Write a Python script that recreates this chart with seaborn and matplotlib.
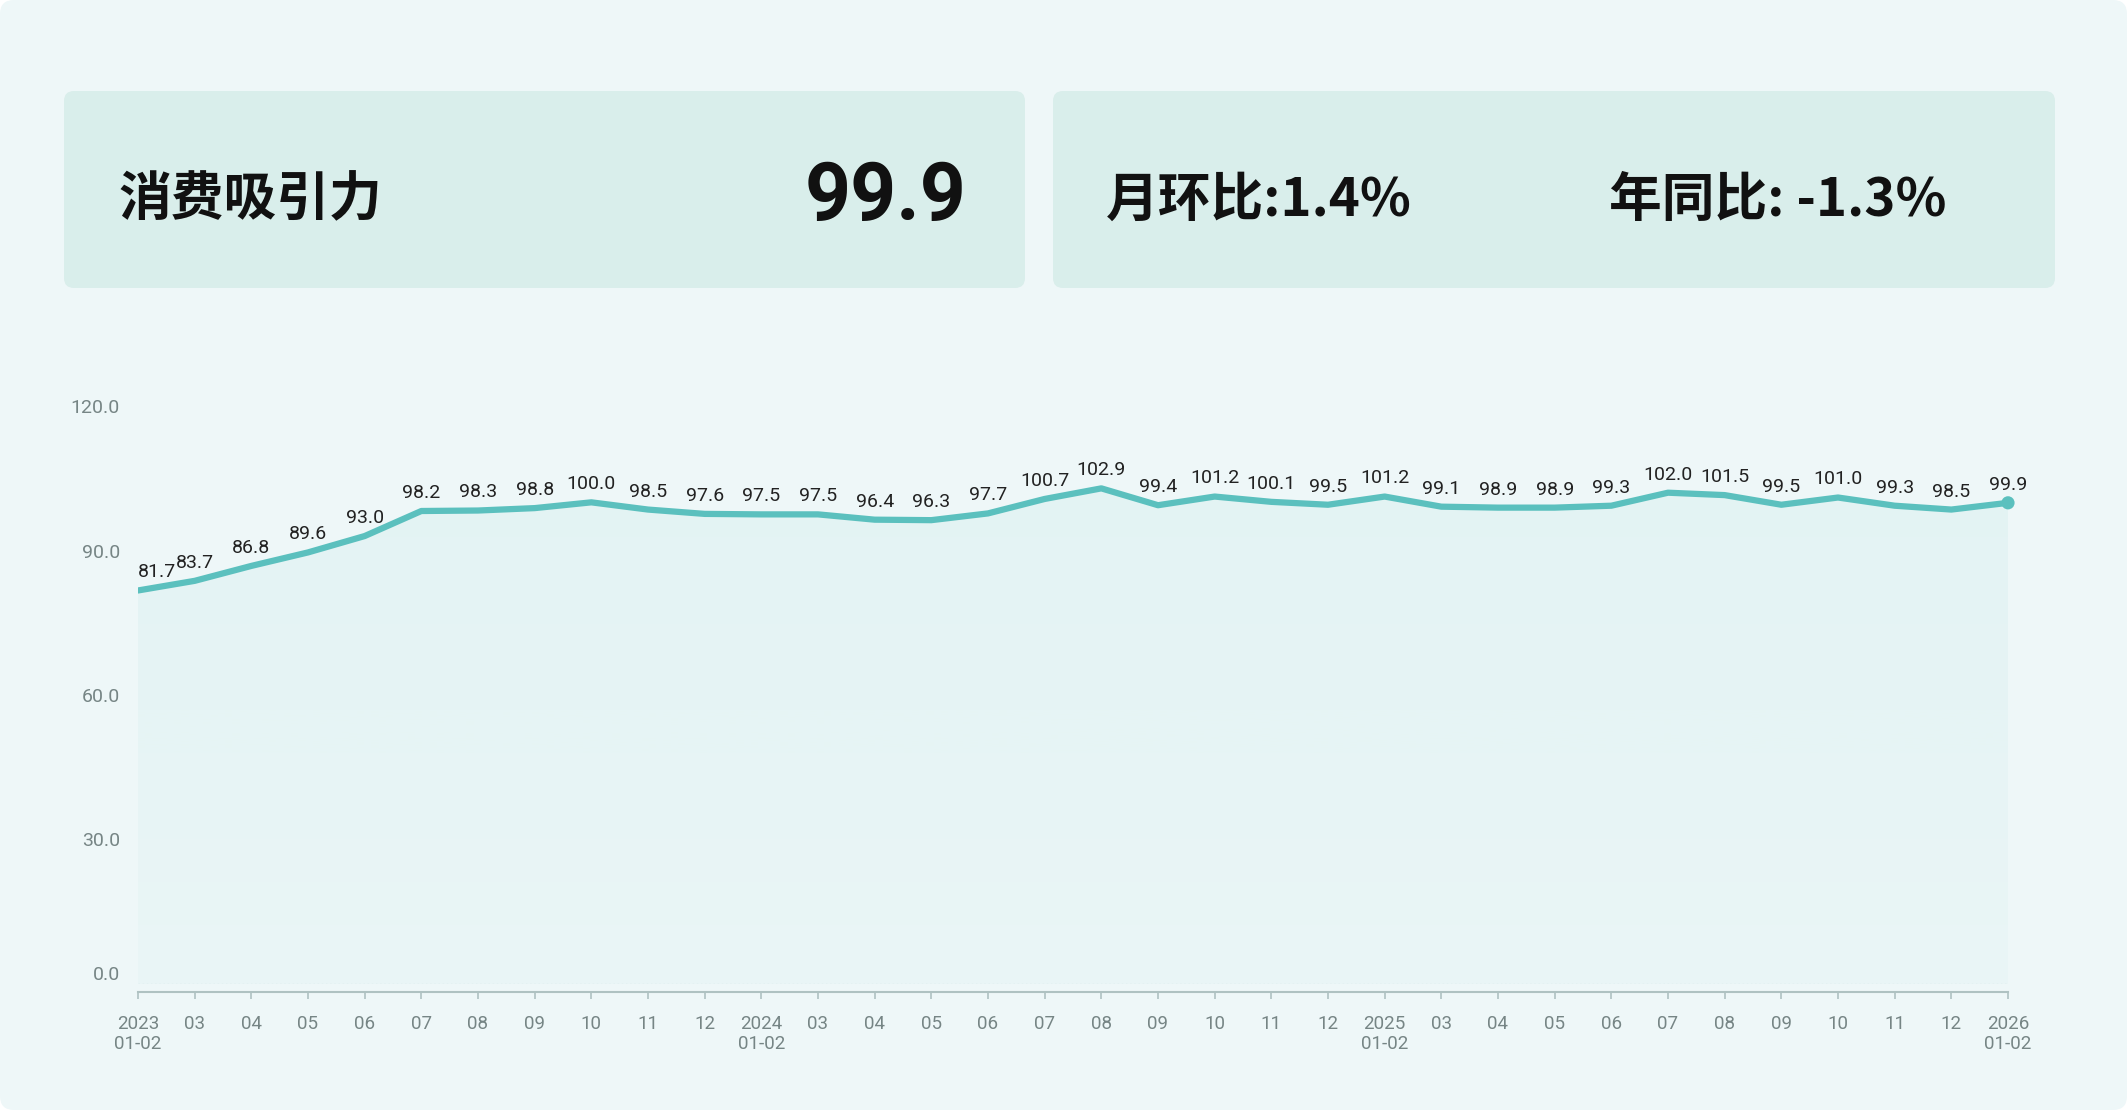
import numpy as np
import pandas as pd
import matplotlib
matplotlib.use("Agg")
import matplotlib.pyplot as plt
import seaborn as sns
from matplotlib.patches import FancyBboxPatch

# ---------------- data ----------------
periods = ["2023\n01-02", "03", "04", "05", "06", "07", "08", "09", "10", "11", "12",
           "2024\n01-02", "03", "04", "05", "06", "07", "08", "09", "10", "11", "12",
           "2025\n01-02", "03", "04", "05", "06", "07", "08", "09", "10", "11", "12",
           "2026\n01-02"]
values = [81.7, 83.7, 86.8, 89.6, 93.0, 98.2, 98.3, 98.8, 100.0, 98.5, 97.6,
          97.5, 97.5, 96.4, 96.3, 97.7, 100.7, 102.9, 99.4, 101.2, 100.1, 99.5,
          101.2, 99.1, 98.9, 98.9, 99.3, 102.0, 101.5, 99.5, 101.0, 99.3, 98.5,
          99.9]
y_ticks = [0, 30, 60, 90, 120]
card_title = "消费吸引力"
card_value = "99.9"
mom_text = "月环比:1.4%"
yoy_text = "年同比: -1.3%"

# ---------------- style ----------------
BG = "#EEF7F8"
CARD = "#D9EEEB"
LINE = "#5BC0BE"
AXC = "#AFC2C2"
TICKC = "#768585"

sns.set_theme(style="white")
plt.rcParams['font.family'] = ['Noto Sans CJK SC', 'DejaVu Sans']

W, H = 2127, 1110
fig = plt.figure(figsize=(W / 100, H / 100), dpi=100, facecolor="white")

# background / cards in pixel coordinates
bg = fig.add_axes([0, 0, 1, 1], zorder=0)
bg.set_xlim(0, W)
bg.set_ylim(H, 0)
bg.axis("off")
bg.add_patch(FancyBboxPatch((0, 0), W, H, boxstyle="round,pad=0,rounding_size=14",
                            fc=BG, ec="none"))
bg.add_patch(FancyBboxPatch((64, 91), 961, 197, boxstyle="round,pad=0,rounding_size=10",
                            fc=CARD, ec="none"))
bg.add_patch(FancyBboxPatch((1053, 91), 1002, 197, boxstyle="round,pad=0,rounding_size=10",
                            fc=CARD, ec="none"))
bg.text(118, 200, card_title, fontsize=38, fontweight="bold", color="#111111",
        ha="left", va="center")
bg.text(967, 198, card_value, fontsize=58, fontweight="bold", color="#111111",
        family=["Roboto", "DejaVu Sans"], ha="right", va="center")
bg.text(1106, 200, mom_text, fontsize=38, fontweight="bold", color="#111111",
        ha="left", va="center")
bg.text(1609, 200, yoy_text, fontsize=38, fontweight="bold", color="#111111",
        ha="left", va="center")

# ---------------- chart ----------------
df = pd.DataFrame({"idx": np.arange(len(values)), "value": values})
ax = fig.add_axes([138 / W, 1 - 984 / H, (2008 - 138) / W, (984 - 406) / H], zorder=1)
ax.patch.set_alpha(0)

# gradient area under the line
poly = ax.fill_between(df["idx"], df["value"], 0, color="none", lw=0)
n = 256
grad = np.zeros((n, 1, 4))
rgb = matplotlib.colors.to_rgb(LINE)
grad[:, 0, 0] = rgb[0]
grad[:, 0, 1] = rgb[1]
grad[:, 0, 2] = rgb[2]
grad[:, 0, 3] = np.linspace(0.03, 0.075, n)
img = ax.imshow(grad, extent=[0, len(values) - 1, 0, max(values)], origin="lower",
                aspect="auto", zorder=1, interpolation="bilinear")
img.set_clip_path(poly.get_paths()[0], ax.transData)

sns.lineplot(data=df, x="idx", y="value", ax=ax, color=LINE, linewidth=4.5,
             zorder=3, solid_joinstyle="round", solid_capstyle="round")
sns.scatterplot(x=df["idx"].iloc[-1:], y=df["value"].iloc[-1:], ax=ax, s=90,
                color=LINE, edgecolor="none", zorder=4, clip_on=False)

ax.axhline(0, color="#D2E2E2", linestyle=(0, (1, 2)), linewidth=1, zorder=2)

for i, v in zip(df["idx"], df["value"]):
    ax.annotate(f"{v:.1f}", (i, v), xytext=(0, 13), textcoords="offset points",
                ha="left" if i == 0 else "center", va="center", fontsize=14,
                color="#222222", family=["Roboto", "DejaVu Sans"], zorder=5,
                annotation_clip=False)

ax.set_xlim(0, len(values) - 1)
ax.set_ylim(0, 120)
ax.set_xticks(df["idx"], labels=periods)
ax.set_yticks(y_ticks, labels=[f"{t:.1f}" for t in y_ticks])
ax.set_xlabel("")
ax.set_ylabel("")

for s in ["top", "right", "left"]:
    ax.spines[s].set_visible(False)
ax.spines["bottom"].set_position(("outward", 6))
ax.spines["bottom"].set_color(AXC)
ax.spines["bottom"].set_linewidth(1.5)

ax.tick_params(axis="x", length=5, width=1.2, color=AXC, pad=11, labelsize=13.5,
               labelcolor=TICKC, direction="out", bottom=True)
ax.tick_params(axis="y", length=0, pad=13, labelsize=14, labelcolor=TICKC, left=True)
for lab in ax.get_xticklabels() + ax.get_yticklabels():
    lab.set_family(["Roboto", "DejaVu Sans"])
ax.get_yticklabels()[0].set_va("bottom")
ax.grid(False)

fig.savefig("out.png", dpi=100, facecolor="white")
